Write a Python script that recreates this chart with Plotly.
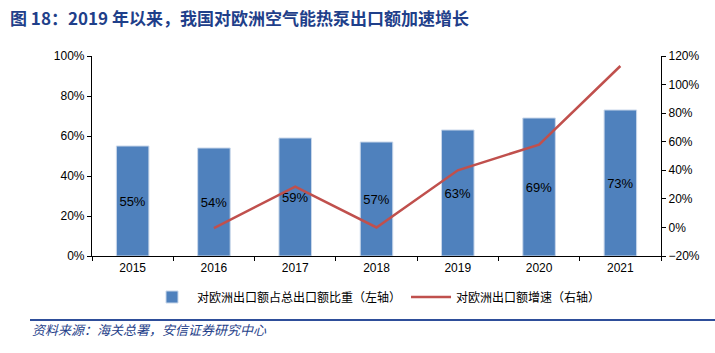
import plotly.graph_objects as go

years = ["2015", "2016", "2017", "2018", "2019", "2020", "2021"]
share = [55, 54, 59, 57, 63, 69, 73]
share_labels = ["55%", "54%", "59%", "57%", "63%", "69%", "73%"]
growth_years = ["2016", "2017", "2018", "2019", "2020", "2021"]
growth = [-0.5, 28.5, 0, 40, 58, 113]

font_fam = "Liberation Sans, Arial, sans-serif"
cjk = "Noto Sans CJK SC, sans-serif"

fig = go.Figure()
fig.add_trace(go.Bar(
    x=years, y=share, text=share_labels, textposition="inside",
    insidetextanchor="middle", textangle=0,
    textfont=dict(size=13, color="black", family=font_fam),
    marker=dict(color="#4f81bd", line=dict(color="#c9d7ea", width=1)),
    width=0.4, name="对欧洲出口额占总出口额比重（左轴）", yaxis="y"))
fig.add_trace(go.Scatter(
    x=growth_years, y=growth, mode="lines",
    line=dict(color="#c0504d", width=2.5),
    name="对欧洲出口额增速（右轴）", yaxis="y2"))

fig.update_layout(
    width=715, height=353,
    margin=dict(l=92, r=54, t=56, b=97),
    paper_bgcolor="white", plot_bgcolor="white",
    showlegend=True,
    legend=dict(orientation="h", x=0.5, xanchor="center", y=-0.205, yanchor="middle",
                bgcolor="rgba(0,0,0,0)",
                font=dict(size=12, family=cjk, color="black"), itemwidth=40,
                traceorder="normal"),
    xaxis=dict(type="category", showline=True, linecolor="black", linewidth=1.2,
               ticks="outside", tickson="boundaries", ticklen=4, tickcolor="black",
               tickfont=dict(size=12, family=font_fam, color="black"), showgrid=False),
    yaxis=dict(range=[0, 100], dtick=20, ticksuffix="%", showline=True,
               linecolor="black", linewidth=1.2, ticks="outside", ticklen=4,
               tickcolor="black", showgrid=False, zeroline=False,
               tickfont=dict(size=12, family=font_fam, color="black")),
    yaxis2=dict(range=[-20, 120], dtick=20, ticksuffix="%", overlaying="y",
                side="right", showline=True, linecolor="black", linewidth=1.2,
                ticks="outside", ticklen=4, tickcolor="black", showgrid=False,
                zeroline=False,
                tickfont=dict(size=12, family=font_fam, color="black")),
    bargap=0.6,
)

fig.add_annotation(text="<b>图 18：2019 年以来，我国对欧洲空气能热泵出口额加速增长</b>",
                   xref="paper", yref="paper", x=0, xanchor="left",
                   xshift=-84, y=1, yshift=39, yanchor="middle", showarrow=False,
                   font=dict(size=17, family=cjk, color="#1f3f8a"))
fig.add_shape(type="line", xref="paper", yref="paper", x0=-62/569, x1=(715-92)/569,
              y0=-64/200, y1=-64/200, line=dict(color="#2e4e9a", width=2))
fig.add_annotation(text="<i>资料来源：海关总署，安信证券研究中心</i>",
                   xref="paper", yref="paper", x=-62/569, xanchor="left",
                   y=-73/200, yanchor="middle", showarrow=False,
                   font=dict(size=13, family=cjk, color="#1f3f8a"))

fig.write_html("out.html")
